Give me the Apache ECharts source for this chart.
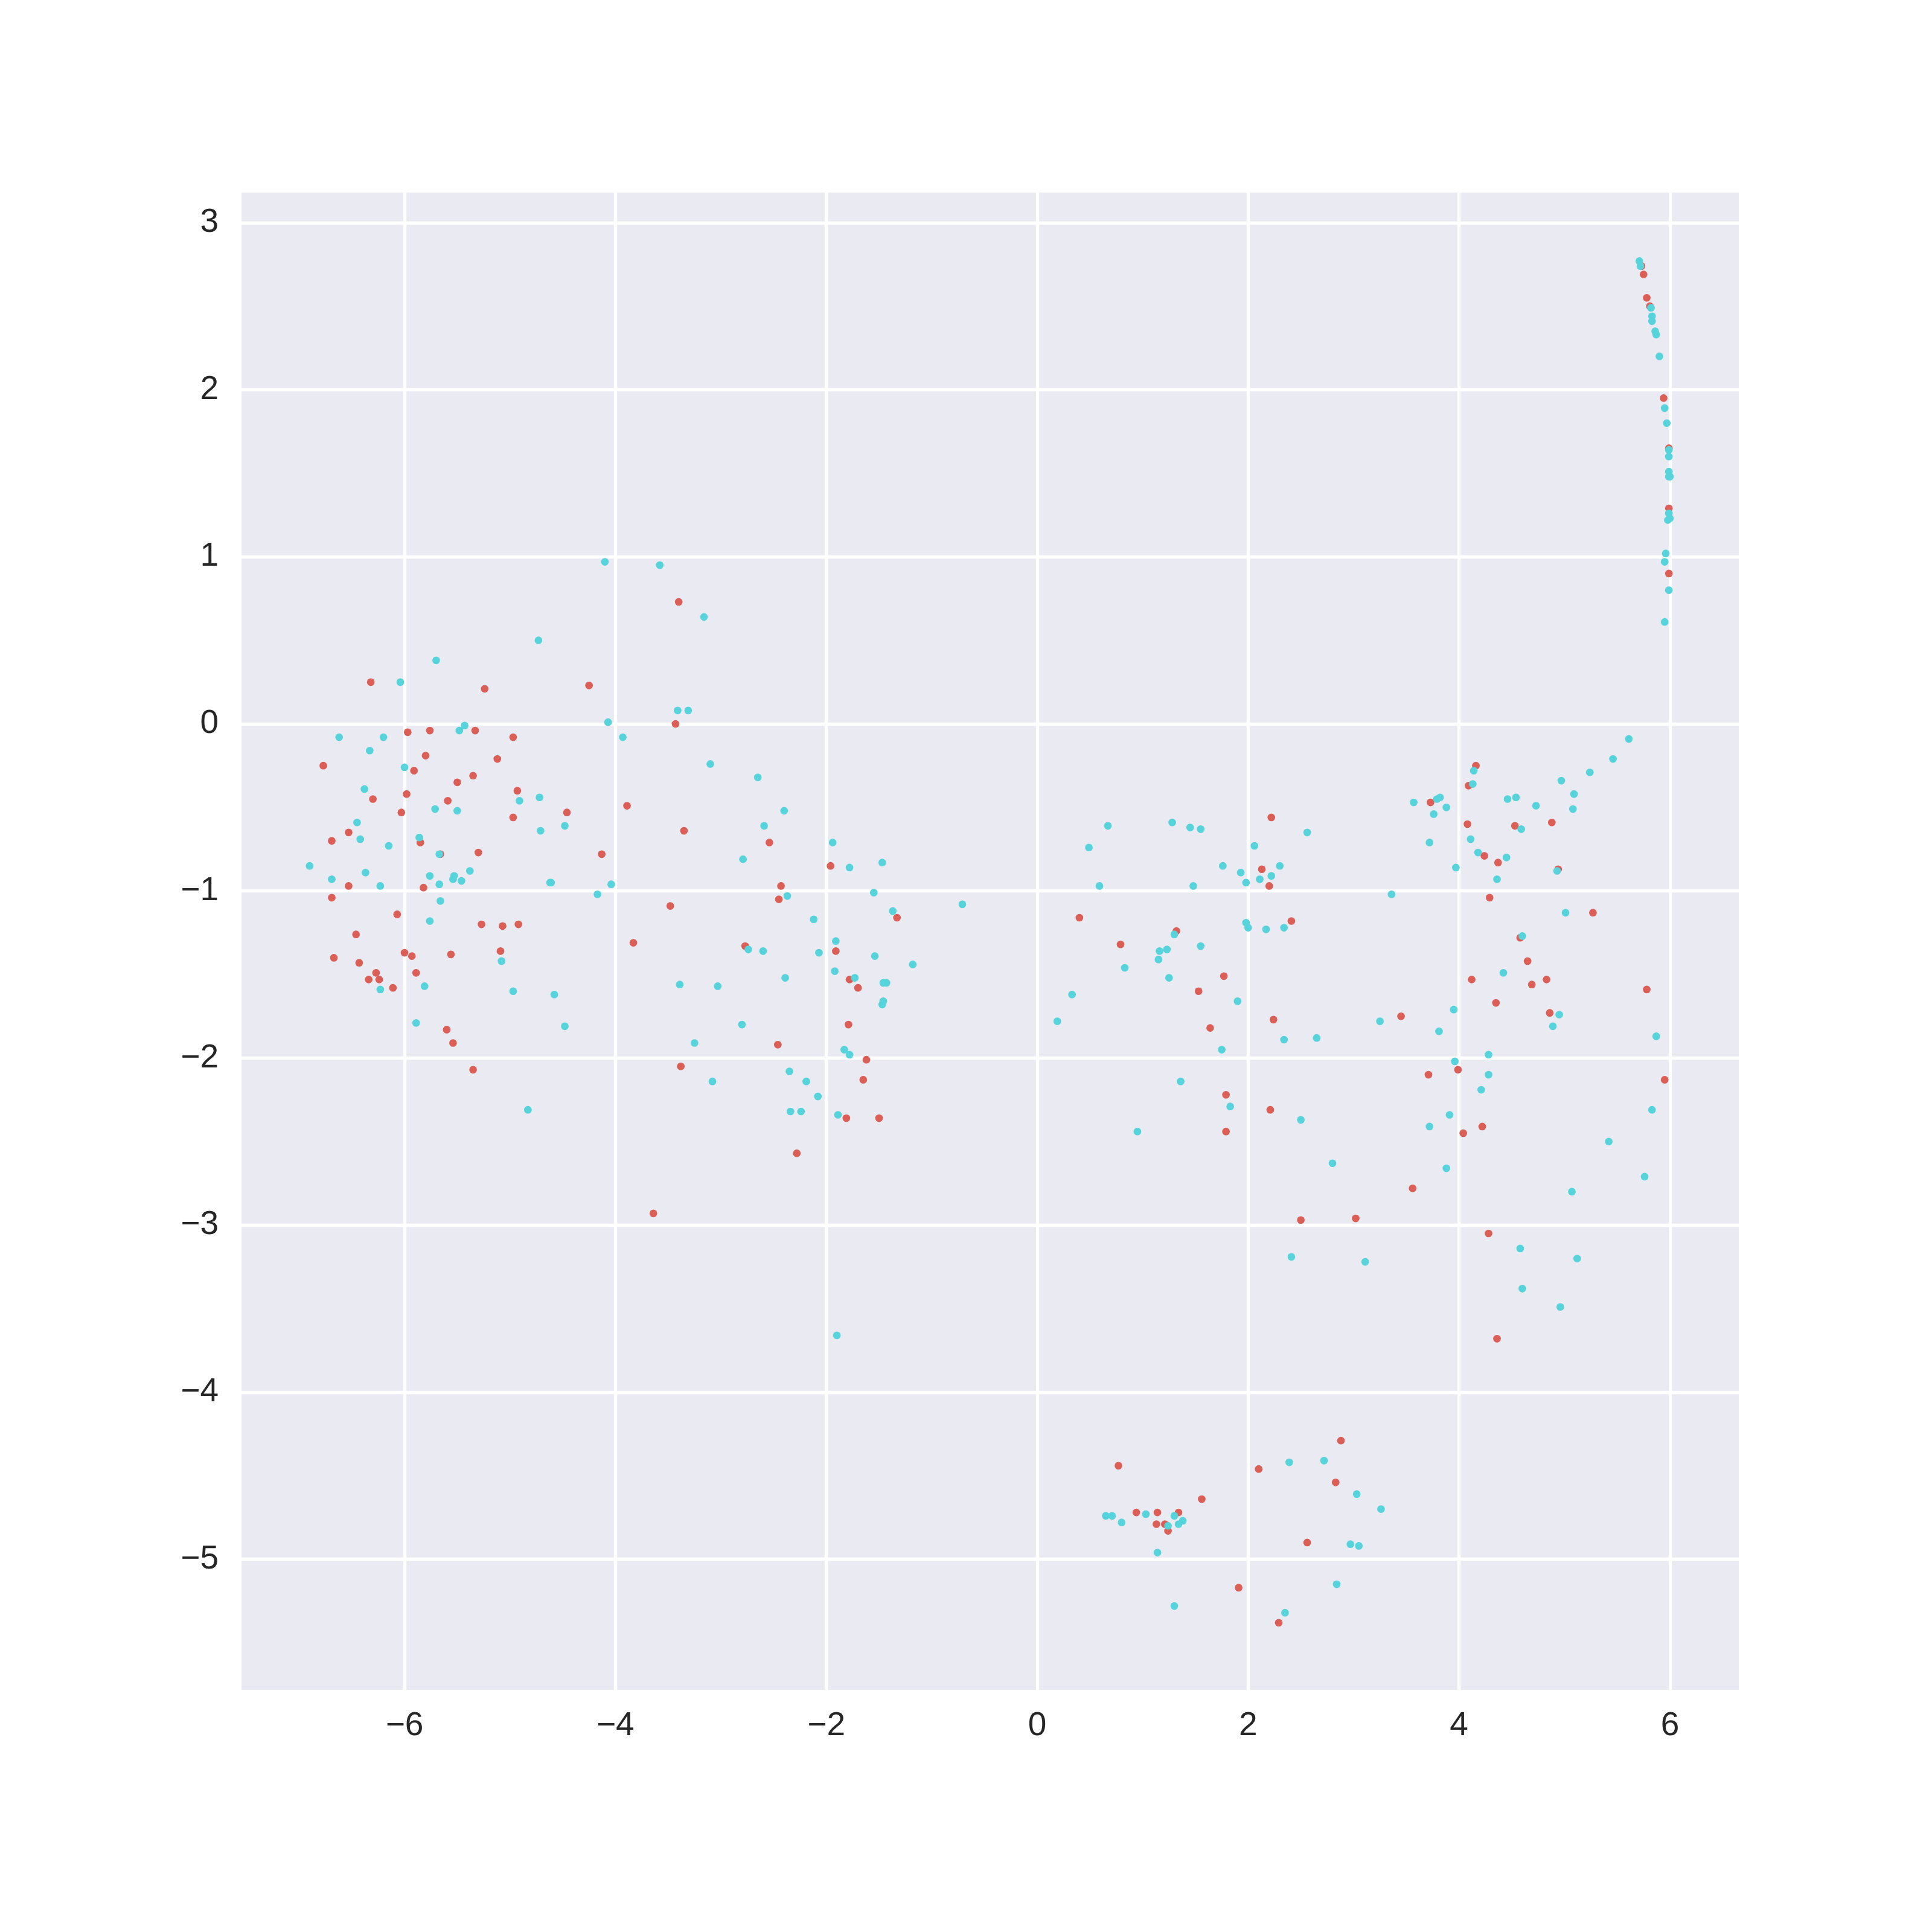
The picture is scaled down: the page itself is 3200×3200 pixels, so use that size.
<!DOCTYPE html>
<html>
<head>
<meta charset="utf-8">
<script src="https://cdn.jsdelivr.net/npm/echarts@6/dist/echarts.min.js"></script>
<style>
html,body{margin:0;padding:0;background:#fff;}
#chart{width:3200px;height:3200px;}
</style>
</head>
<body>
<div id="chart"></div>
<script>
const xTicks = [-6, -4, -2, 0, 2, 4, 6];
const yTicks = [-5, -4, -3, -2, -1, 0, 1, 2, 3];

const redPoints = [
  [-6.32,0.25],[-5.24,0.21],[-4.25,0.23],[-5.33,-0.04],[-5.97,-0.05],[-5.76,-0.04],[-4.97,-0.08],[-5.80,-0.19],
  [-5.12,-0.21],[-6.77,-0.25],[-5.91,-0.28],[-5.35,-0.31],[-5.50,-0.35],[-5.98,-0.42],[-6.30,-0.45],[-4.93,-0.40],
  [-5.59,-0.46],[-6.03,-0.53],[-4.97,-0.56],[-4.46,-0.53],[-6.53,-0.65],[-6.69,-0.70],[-5.85,-0.71],[-5.66,-0.78],
  [-5.30,-0.77],[-4.13,-0.78],[-6.53,-0.97],[-5.82,-0.98],[-6.69,-1.04],[-6.07,-1.14],[-5.27,-1.20],[-5.07,-1.21],
  [-4.92,-1.20],[-6.46,-1.26],[-6.00,-1.37],[-5.93,-1.39],[-5.56,-1.38],[-5.09,-1.36],[-6.67,-1.40],[-6.43,-1.43],
  [-6.27,-1.49],[-6.34,-1.53],[-6.24,-1.53],[-5.89,-1.49],[-6.11,-1.58],[-5.60,-1.83],[-5.54,-1.91],[-5.35,-2.07],
  [-3.40,0.73],[-3.43,0.00],[-3.89,-0.49],[-3.35,-0.64],[-2.54,-0.71],[-1.96,-0.85],[-2.43,-0.97],[-2.45,-1.05],
  [-3.48,-1.09],[-1.33,-1.16],[-3.83,-1.31],[-2.77,-1.33],[-1.91,-1.36],[-1.78,-1.53],[-1.70,-1.58],[-1.79,-1.80],
  [-2.46,-1.92],[-1.62,-2.01],[-3.38,-2.05],[-1.65,-2.13],[-1.81,-2.36],[-1.50,-2.36],[-2.28,-2.57],[-3.64,-2.93],
  [2.22,-0.56],[2.13,-0.87],[2.20,-0.97],[0.40,-1.16],[2.41,-1.18],[1.32,-1.24],[0.79,-1.32],[1.77,-1.51],
  [1.53,-1.60],[1.64,-1.82],[2.24,-1.77],[1.79,-2.22],[2.21,-2.31],[1.79,-2.44],[2.50,-2.97],[3.02,-2.96],
  [0.77,-4.44],[1.56,-4.64],[0.94,-4.72],[1.14,-4.72],[1.34,-4.72],[1.13,-4.79],[1.21,-4.79],[1.24,-4.83],
  [2.10,-4.46],[2.88,-4.29],[2.83,-4.54],[2.56,-4.90],[1.91,-5.17],[2.29,-5.38],
  [4.16,-0.25],[4.09,-0.37],[3.73,-0.47],[4.08,-0.60],[4.53,-0.61],[4.88,-0.59],[4.24,-0.79],[4.37,-0.83],
  [4.94,-0.87],[4.29,-1.04],[5.27,-1.13],[4.58,-1.28],[4.65,-1.42],[4.12,-1.53],[4.69,-1.56],[4.83,-1.53],
  [4.35,-1.67],[3.45,-1.75],[4.86,-1.73],[3.99,-2.07],[3.71,-2.10],[4.04,-2.45],[4.22,-2.41],[3.56,-2.78],
  [4.28,-3.05],[4.36,-3.68],
  [5.73,2.74],[5.75,2.69],[5.78,2.55],[5.81,2.50],[5.94,1.95],[5.99,1.65],[5.99,1.29],[5.99,0.90],
  [5.78,-1.59],[5.95,-2.13]
];

const cyanPoints = [
  [-4.73,0.50],[-5.70,0.38],[-6.04,0.25],[-5.43,-0.01],[-5.48,-0.04],[-6.62,-0.08],[-6.20,-0.08],[-6.33,-0.16],
  [-6.00,-0.26],[-6.38,-0.39],[-4.91,-0.46],[-4.72,-0.44],[-5.71,-0.51],[-5.50,-0.52],[-6.45,-0.59],[-4.48,-0.61],
  [-4.71,-0.64],[-6.42,-0.69],[-6.15,-0.73],[-5.86,-0.68],[-5.67,-0.78],[-6.90,-0.85],[-6.69,-0.93],[-6.37,-0.89],
  [-5.76,-0.91],[-5.53,-0.91],[-5.54,-0.93],[-5.46,-0.94],[-5.38,-0.88],[-5.67,-0.96],[-6.23,-0.97],[-4.62,-0.95],
  [-4.61,-0.95],[-4.17,-1.02],[-5.66,-1.06],[-5.76,-1.18],[-5.08,-1.42],[-6.23,-1.59],[-5.81,-1.57],[-4.97,-1.60],
  [-4.58,-1.62],[-5.89,-1.79],[-4.48,-1.81],[-4.83,-2.31],
  [-4.10,0.97],[-3.58,0.95],[-3.16,0.64],[-3.41,0.08],[-3.31,0.08],[-4.07,0.01],[-3.93,-0.08],[-3.10,-0.24],
  [-2.65,-0.32],[-2.40,-0.52],[-2.59,-0.61],[-1.94,-0.71],[-2.79,-0.81],[-1.78,-0.86],[-1.47,-0.83],[-4.04,-0.96],
  [-2.37,-1.03],[-1.55,-1.01],[-2.12,-1.17],[-1.37,-1.12],[-0.71,-1.08],[-2.74,-1.35],[-2.60,-1.36],[-2.07,-1.37],
  [-1.91,-1.30],[-1.54,-1.39],[-1.92,-1.48],[-2.39,-1.52],[-1.73,-1.52],[-1.18,-1.44],[-1.46,-1.55],[-1.43,-1.55],
  [-1.46,-1.66],[-1.47,-1.68],[-3.39,-1.56],[-3.03,-1.57],[-2.80,-1.80],[-3.25,-1.91],[-1.83,-1.95],[-1.78,-1.98],
  [-3.08,-2.14],[-2.35,-2.08],[-2.19,-2.14],[-2.08,-2.23],[-2.34,-2.32],[-2.24,-2.32],[-1.89,-2.34],[-1.90,-3.66],
  [0.67,-0.61],[1.28,-0.59],[1.45,-0.62],[1.55,-0.63],[2.56,-0.65],[0.49,-0.74],[2.06,-0.73],[1.76,-0.85],
  [1.93,-0.89],[2.30,-0.85],[1.98,-0.95],[2.11,-0.93],[2.22,-0.91],[0.59,-0.97],[1.48,-0.97],[3.36,-1.02],
  [1.98,-1.19],[2.00,-1.22],[2.17,-1.23],[2.34,-1.22],[1.30,-1.26],[1.16,-1.36],[1.23,-1.35],[1.55,-1.33],
  [1.15,-1.41],[0.83,-1.46],[1.25,-1.52],[1.90,-1.66],[0.33,-1.62],[0.19,-1.78],[2.34,-1.89],[2.65,-1.88],
  [3.25,-1.78],[1.75,-1.95],[1.36,-2.14],[1.83,-2.29],[2.50,-2.37],[0.95,-2.44],[2.80,-2.63],[2.41,-3.19],
  [3.11,-3.22],
  [0.65,-4.74],[0.71,-4.74],[0.80,-4.78],[1.03,-4.73],[1.30,-4.74],[1.24,-4.80],[1.34,-4.79],[1.38,-4.77],
  [1.14,-4.96],[2.39,-4.42],[2.72,-4.41],[3.03,-4.61],[3.26,-4.70],[2.97,-4.91],[3.05,-4.92],[1.30,-5.28],
  [2.84,-5.15],[2.35,-5.32],
  [4.14,-0.28],[4.13,-0.36],[5.46,-0.21],[5.24,-0.29],[4.97,-0.34],[5.09,-0.42],[5.08,-0.51],[3.57,-0.47],
  [3.79,-0.45],[3.82,-0.44],[3.88,-0.50],[3.76,-0.54],[4.46,-0.45],[4.54,-0.44],[4.73,-0.49],[4.59,-0.63],
  [3.72,-0.71],[4.11,-0.69],[4.18,-0.77],[4.45,-0.80],[3.97,-0.86],[4.36,-0.93],[4.93,-0.88],[5.01,-1.13],
  [4.60,-1.27],[4.42,-1.49],[3.95,-1.71],[3.81,-1.84],[4.95,-1.74],[4.89,-1.81],[4.28,-1.98],[3.96,-2.02],
  [4.28,-2.10],[4.21,-2.19],[3.91,-2.34],[3.72,-2.41],[3.88,-2.66],[5.42,-2.50],[5.07,-2.80],[4.58,-3.14],
  [5.12,-3.20],[4.60,-3.38],[4.96,-3.49],
  [5.71,2.77],[5.72,2.74],[5.82,2.49],[5.83,2.44],[5.83,2.41],[5.86,2.35],[5.87,2.33],[5.90,2.20],
  [5.95,1.89],[5.97,1.80],[5.99,1.64],[5.99,1.60],[5.99,1.51],[6.00,1.48],[5.99,1.48],[5.99,1.26],
  [6.00,1.23],[5.98,1.22],[5.96,1.02],[5.95,0.97],[5.99,0.80],[5.95,0.61],
  [5.61,-0.09],[5.87,-1.87],[5.83,-2.31],[5.76,-2.71]
];

const minusFmt = v => String(v).replace('-', '\u2212');
const labelStyle = {fontFamily: '"Liberation Sans", Arial, sans-serif', fontSize: 55, color: '#262626'};

const chart = echarts.init(document.getElementById('chart'), null, {renderer: 'canvas'});
chart.setOption({
  animation: false,
  backgroundColor: '#ffffff',
  grid: {left: 400, top: 319, width: 2480, height: 2480, show: true, backgroundColor: '#EAEAF2', borderWidth: 0},
  xAxis: {
    type: 'value', min: -7.546, max: 6.653,
    axisLine: {show: false},
    axisTick: {show: false, customValues: xTicks},
    axisLabel: Object.assign({customValues: xTicks, margin: 32, formatter: minusFmt}, labelStyle),
    splitLine: {show: true, lineStyle: {color: '#ffffff', width: 5.3}}
  },
  yAxis: {
    type: 'value', min: -5.782, max: 3.180,
    axisLine: {show: false},
    axisTick: {show: false, customValues: yTicks},
    axisLabel: Object.assign({customValues: yTicks, margin: 38, formatter: minusFmt}, labelStyle),
    splitLine: {show: true, lineStyle: {color: '#ffffff', width: 5.3}}
  },
  series: [
    {type: 'scatter', data: redPoints, symbolSize: 12.7, itemStyle: {color: '#DB5F57', opacity: 1}},
    {type: 'scatter', data: cyanPoints, symbolSize: 12.7, itemStyle: {color: '#57D3DB', opacity: 1}}
  ]
});
</script>
</body>
</html>
